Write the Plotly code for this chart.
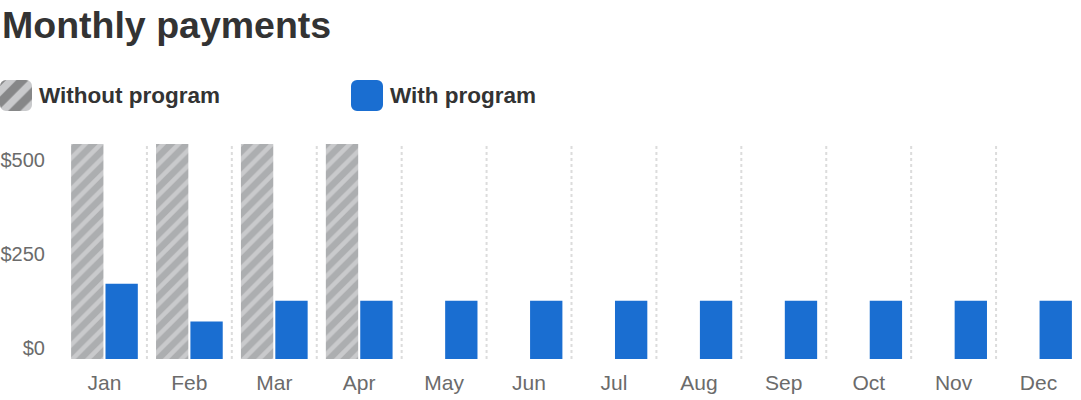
import plotly.graph_objects as go

########################## DATA #######################################

months = ["Jan", "Feb", "Mar", "Apr", "May", "Jun",
          "Jul", "Aug", "Sep", "Oct", "Nov", "Dec"]

without_program = [572, 572, 572, 572, None, None,
                   None, None, None, None, None, None]
with_program = [200, 100, 155, 155, 155, 155,
                155, 155, 155, 155, 155, 155]

series_names = ["Without program", "With program"]

y_ticks = [0, 250, 500]
y_labels = ["$" + str(v) for v in y_ticks]
y_max = 572

########################## STYLE ######################################

font_family = "Liberation Sans, Arial, sans-serif"
blue = "#1a6ed1"
stripe_bg = "#c9cacc"
stripe_fg = "#909193"
divider = "#dcdcdc"

W, H = 1081, 400
top = 60
plot_bottom_px = 359
plot_top_px = 144
plot_left_px = 62
bottom = H - plot_bottom_px
paper_h = H - top - bottom


def ypaper(px):
    # window pixel -> paper fraction
    return (plot_bottom_px - px) / paper_h


fig = go.Figure()

# main bars
fig.add_trace(
    go.Bar(
        x=months,
        y=without_program,
        name=series_names[0],
        marker=dict(
            color=stripe_bg,
            line=dict(width=0),
            pattern=dict(shape="/", bgcolor=stripe_bg, fgcolor=stripe_fg,
                         size=11, solidity=0.6, fillmode="overlay"),
        ),
        showlegend=False,
        hoverinfo="x+y",
    )
)
fig.add_trace(
    go.Bar(
        x=months,
        y=with_program,
        name=series_names[1],
        marker=dict(color=blue, line=dict(width=0)),
        showlegend=False,
        hoverinfo="x+y",
    )
)

# legend swatches: upper and lower halves overlap a lot, so both ends get rounded corners
fig.add_trace(
    go.Bar(
        x=series_names + series_names,
        y=[1.4] * len(series_names) + [-1.4] * len(series_names),
        base=[-0.5] * len(series_names) + [0.5] * len(series_names),
        xaxis="x2",
        yaxis="y2",
        width=32 / 351,
        marker=dict(
            color=[stripe_bg, blue] * 2,
            line=dict(width=0),
            cornerradius=6,
            pattern=dict(shape=["/", ""] * 2, bgcolor=stripe_bg,
                         fgcolor=stripe_fg, size=16, solidity=0.55,
                         fillmode="overlay"),
        ),
        showlegend=False,
        hoverinfo="skip",
    )
)

# dotted dividers between months
for i in range(len(months) - 1):
    fig.add_shape(
        type="line",
        xref="x",
        yref="y domain",
        x0=i + 0.5,
        x1=i + 0.5,
        y0=0,
        y1=1,
        line=dict(color=divider, width=2, dash="dot"),
        layer="below",
    )

# legend texts
for name in series_names:
    fig.add_annotation(
        x=name,
        y=0,
        xref="x2",
        yref="y2",
        text=name,
        showarrow=False,
        xanchor="left",
        yanchor="middle",
        xshift=21,
        font=dict(family=font_family, size=22.5, color="#333333", weight="bold"),
    )

fig.update_layout(
    width=W,
    height=H,
    margin=dict(l=0, r=0, t=top, b=bottom),
    paper_bgcolor="white",
    plot_bgcolor="white",
    barmode="group",
    bargap=0.19,
    bargroupgap=0.06,
    showlegend=False,
    title=dict(
        text="Monthly payments",
        x=2 / W,
        xref="container",
        xanchor="left",
        y=1 - 25 / H,
        yref="container",
        yanchor="middle",
        font=dict(family=font_family, size=37.5, color="#333333", weight="bold"),
    ),
    xaxis=dict(
        domain=[plot_left_px / W, 1],
        showgrid=False,
        zeroline=False,
        showline=False,
        ticks="",
        tickfont=dict(family=font_family, size=21, color="#6b6b6b"),
        ticklabelstandoff=9,
        fixedrange=True,
    ),
    yaxis=dict(
        domain=[0, (plot_bottom_px - plot_top_px) / paper_h],
        range=[0, y_max],
        showgrid=False,
        zeroline=False,
        showline=False,
        ticks="",
        tickvals=y_ticks,
        ticktext=y_labels,
        tickfont=dict(family=font_family, size=20, color="#6b6b6b"),
        ticklabelshift=-11,
        ticklabelstandoff=16,
        fixedrange=True,
    ),
    xaxis2=dict(
        domain=[0, 383 / W],
        range=[-16 / 351, 1 + 16 / 351],
        anchor="y2",
        visible=False,
        fixedrange=True,
    ),
    yaxis2=dict(
        domain=[ypaper(111), ypaper(80)],
        range=[-0.9, 0.9],
        anchor="x2",
        visible=False,
        fixedrange=True,
    ),
)

# drop the default 8px page margin so the figure sits at the window corner
fig.write_html(
    "out.html",
    config={"displayModeBar": False},
    post_script="document.body.style.margin = '0';",
)
